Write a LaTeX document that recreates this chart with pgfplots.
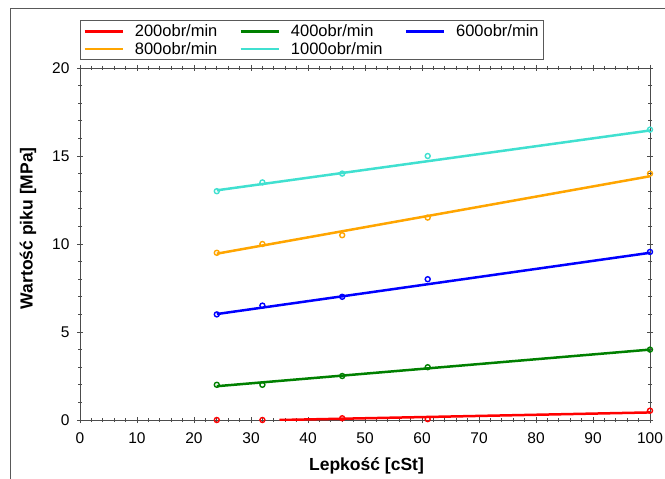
\documentclass[border=0pt]{standalone}
\usepackage{pgfplots}
\pgfplotsset{compat=1.18}
\usepackage{fontspec}
\setmainfont{Liberation Sans}
\definecolor{cturq}{RGB}{64,224,208}
\definecolor{corange}{RGB}{255,165,0}
\definecolor{cgreen}{RGB}{0,128,0}
\definecolor{cred}{RGB}{255,0,0}
\definecolor{cblue}{RGB}{0,0,255}
\begin{document}
\begin{tikzpicture}
\useasboundingbox (-80bp,-59bp) rectangle (585bp,420bp);
\draw[black!65, line width=0.8bp] (-70bp,-60bp) -- (-70bp,412bp) -- (586bp,412bp);
\begin{axis}[
  at={(0,0)}, anchor=south west,
  scale only axis, width=570bp, height=352bp,
  xmin=0, xmax=100, ymin=0, ymax=20,
  xtick distance=10, ytick distance=5,
  minor x tick num=4, minor y tick num=4,
  tick align=center, major tick length=6bp, minor tick length=4bp,
  axis line style={draw=black!70, line width=0.9bp},
  every tick/.style={black!70, line width=0.7bp},
  /pgf/number format/assume math mode=true,
  tick label style={font=\fontsize{15.5bp}{17bp}\selectfont},
  xticklabel style={yshift=-6bp},
  yticklabel style={xshift=-4bp},
  xlabel={Lepkość [cSt]}, ylabel={Wartość piku [MPa]},
  label style={font=\bfseries\fontsize{17.5bp}{20bp}\selectfont},
  xlabel style={at={(axis description cs:0.5026,-0.1307)}, anchor=center},
  ylabel style={at={(axis description cs:-0.0912,0.545)}, anchor=center},
  legend columns=3,
  legend cell align=left,
  legend style={at={(axis description cs:0,1)}, anchor=south west, yshift=8bp,
    draw=black!65, line width=0.8bp,
    font=\fontsize{16.5bp}{18.5bp}\selectfont,
    /tikz/every even column/.append style={column sep=20bp}},
  legend image code/.code={\draw[#1, line width=2.5bp] (0bp,0bp) -- (38bp,0bp); \path (47bp,0bp);},
  every axis plot/.append style={line width=2.5bp},
  mymarks/.style={only marks, mark=o, mark size=2.5bp, mark options={line width=1.4bp}, forget plot},
]
% fitted lines
\addplot[cred, no marks] coordinates {(35,0.0) (100,0.43)};
\addlegendentry{200obr/min}
\addplot[cgreen, no marks] coordinates {(24,1.92) (100,4.0)};
\addlegendentry{400obr/min}
\addplot[cblue, no marks] coordinates {(24,6.02) (100,9.5)};
\addlegendentry{600obr/min\hspace{16bp}}
\addplot[corange, no marks] coordinates {(24,9.45) (100,13.85)};
\addlegendentry{800obr/min}
\addplot[cturq, no marks] coordinates {(24,13.05) (100,16.45)};
\addlegendentry{1000obr/min}
% measured points
\addplot[cred, mymarks] coordinates {(24,0.0) (32,0.0) (46,0.1) (61,0.05) (100,0.53)};
\addplot[cgreen, mymarks] coordinates {(24,2.0) (32,2.0) (46,2.5) (61,3.0) (100,4.0)};
\addplot[cblue, mymarks] coordinates {(24,6.0) (32,6.5) (46,7.0) (61,8.0) (100,9.55)};
\addplot[corange, mymarks] coordinates {(24,9.5) (32,10.0) (46,10.5) (61,11.5) (100,14.0)};
\addplot[cturq, mymarks] coordinates {(24,13.0) (32,13.5) (46,14.0) (61,15.0) (100,16.5)};
\end{axis}
\end{tikzpicture}
\end{document}
